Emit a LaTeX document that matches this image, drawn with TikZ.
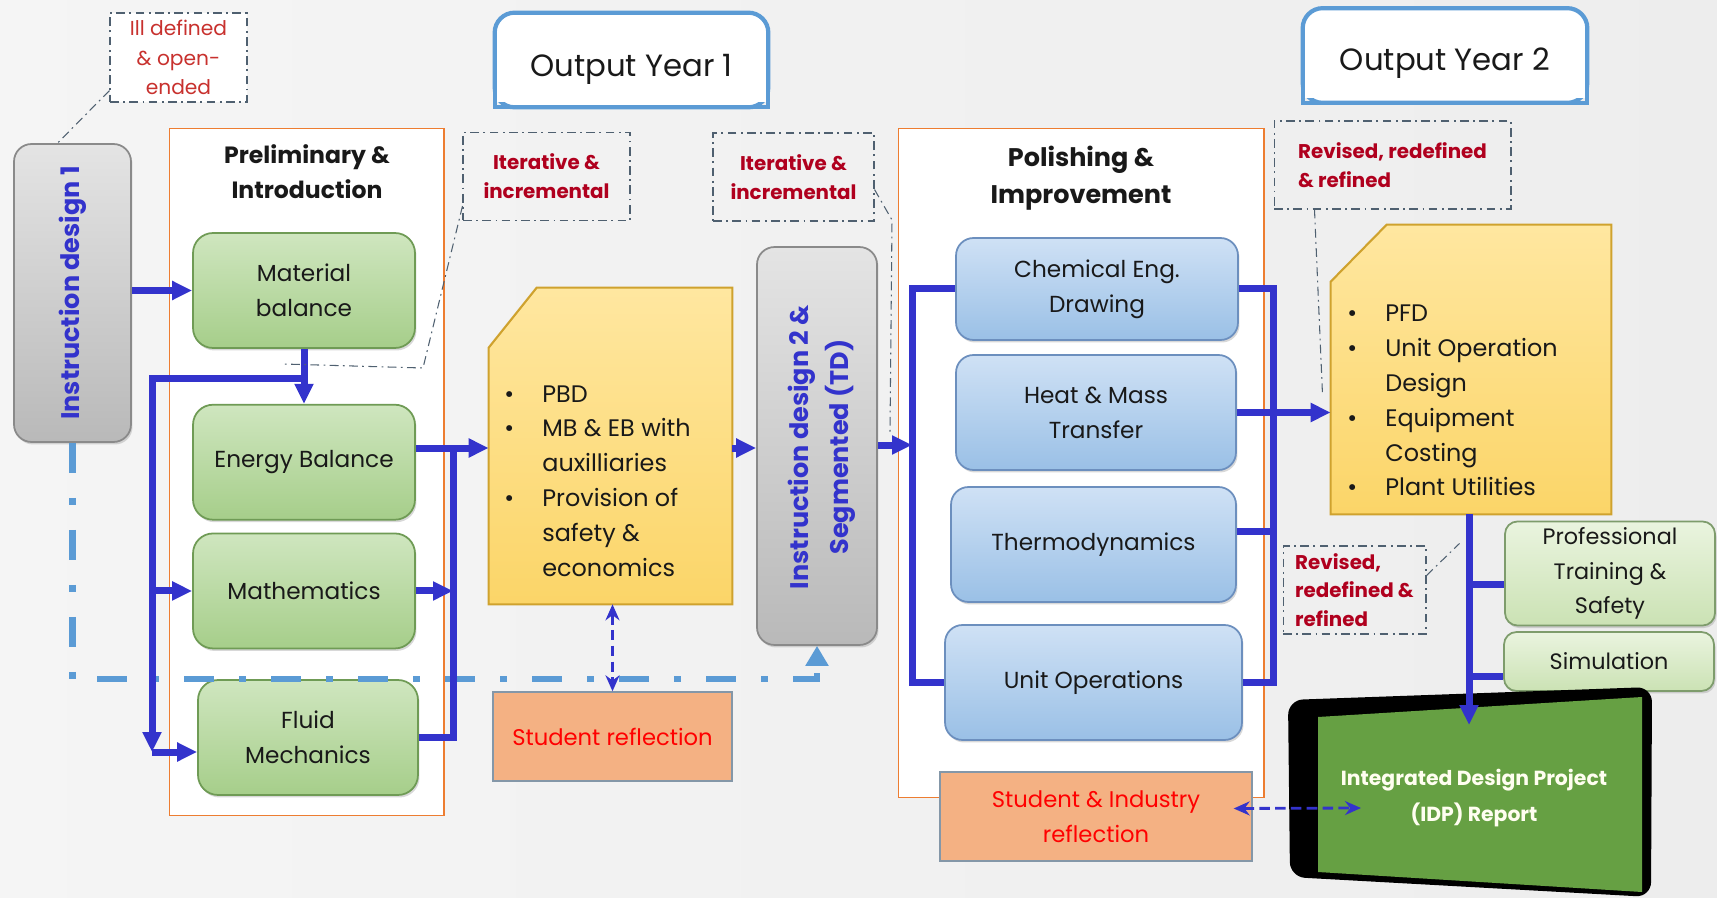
\documentclass[tikz,border=0pt]{standalone}
\usepackage{fontspec}
\setmainfont{Poppins}
\usetikzlibrary{arrows.meta,positioning,calc,shadows}
\definecolor{flowblue}{HTML}{3333CC}
\definecolor{trackblue}{HTML}{5B9BD5}
\definecolor{notegrey}{HTML}{4F6070}
\definecolor{notered}{HTML}{B0001E}
\definecolor{softred}{HTML}{C8312E}
\definecolor{stageorange}{HTML}{ED7D31}
\definecolor{idpgreen}{HTML}{66A043}
\definecolor{greentop}{HTML}{CFE6BF}
\definecolor{greenbot}{HTML}{A6CE8A}
\definecolor{greenedge}{HTML}{6F9B55}
\definecolor{bluetop}{HTML}{CFE1F5}
\definecolor{bluebot}{HTML}{9AC0E6}
\definecolor{blueedge}{HTML}{6C8FBE}
\definecolor{greytop}{HTML}{E4E4E4}
\definecolor{greybot}{HTML}{B9B9B9}
\definecolor{greyedge}{HTML}{8A8A8A}
\definecolor{goldtop}{HTML}{FFE7A0}
\definecolor{goldbot}{HTML}{FBD568}
\definecolor{goldedge}{HTML}{CFA22E}
\definecolor{mintop}{HTML}{EAF4DF}
\definecolor{minbot}{HTML}{CBE2B4}
\definecolor{minedge}{HTML}{7E9C6C}
\definecolor{salmon}{HTML}{F4B183}
\definecolor{salmonedge}{HTML}{8497A8}
\definecolor{yearedge}{HTML}{5B9BD5}
\newcommand\itembul{\makebox[0.76cm][l]{\textbullet}}
\newcommand\itemgap{\hspace*{0.76cm}}
\tikzset{
  every node/.style = {font=\fontsize{13.2}{19.8}\selectfont, text=black!90},
  stage/.style      = {draw=stageorange, line width=0.6pt, fill=white},
  stagetitle/.style = {font=\bfseries\fontsize{13.4}{19.8}\selectfont, align=center},
  boxshadow/.style  = {drop shadow={shadow xshift=0.03cm, shadow yshift=-0.05cm, opacity=0.3}},
  greenbox/.style   = {draw=greenedge, line width=1pt, rounded corners=0.4cm, top color=greentop,
                       bottom color=greenbot, minimum width=4.44cm, minimum height=2.3cm,
                       align=center, boxshadow},
  bluebox/.style    = {draw=blueedge, line width=1pt, rounded corners=0.35cm, top color=bluetop,
                       bottom color=bluebot, minimum height=2.3cm, align=center, boxshadow},
  greybox/.style    = {draw=greyedge, line width=1pt, rounded corners=0.35cm, top color=greytop,
                       bottom color=greybot, boxshadow},
  idtext/.style     = {rotate=90, text=flowblue, font=\bfseries\fontsize{14.5}{23}\selectfont},
  notebox/.style    = {draw=goldedge, line width=1.2pt, top color=goldtop, bottom color=goldbot},
  listtext/.style   = {anchor=west, inner sep=0pt, align=left, font=\fontsize{13.6}{19.85}\selectfont},
  reflbox/.style    = {draw=salmonedge, line width=0.8pt, fill=salmon, minimum height=1.78cm,
                       align=center, text=red, font=\fontsize{12.9}{19.8}\selectfont},
  sidebox/.style    = {draw=minedge, line width=1pt, rounded corners=0.25cm, top color=mintop,
                       bottom color=minbot, minimum width=4.2cm, align=center, boxshadow,
                       font=\fontsize{12.7}{19.8}\selectfont},
  yearbox/.style    = {minimum height=1.88cm, font=\fontsize{17.5}{21}\selectfont},
  yearframe/.style  = {draw=yearedge, line width=2.4pt},
  callout/.style    = {draw=notegrey, line width=0.6pt, dash pattern=on 5pt off 2.5pt on 1pt off 2.5pt,
                       minimum height=1.76cm, align=center, text=notered,
                       font=\bfseries\fontsize{11.3}{16.4}\selectfont},
  note/.style       = {draw=notegrey, line width=0.6pt, dash pattern=on 5pt off 2.5pt on 1pt off 2.5pt},
  bus/.style        = {draw=flowblue, line width=0.14cm},
  flow/.style       = {bus, -{Triangle[length=0.4cm,width=0.36cm]}},
  twoway/.style     = {draw=flowblue, line width=1.6pt, dash pattern=on 6pt off 3pt,
                       {Stealth[length=0.32cm,width=0.28cm]}-{Stealth[length=0.32cm,width=0.28cm]}},
  track/.style      = {draw=trackblue, line width=0.13cm,
                       dash pattern=on 0.6cm off 0.5cm on 0.14cm off 0.5cm,
                       -{Triangle[length=0.4cm,width=0.44cm]}},
}
\begin{document}
\begin{tikzpicture}[x=0.02cm, y=-0.02cm]
  \useasboundingbox (0,0) rectangle (1717,898);
  \shade[left color=black!4, right color=black!7] (0,0) rectangle (1717,898);

  % the two stages
  \node[stage, minimum width=5.5cm, minimum height=13.76cm] (prelim) at (306.5,472) {};
  \node[stagetitle] (prelimtitle) at (307,172) {Preliminary \&\\Introduction};
  \node[stage, minimum width=7.32cm, minimum height=13.4cm] (polish) at (1081,463) {};
  \node[stagetitle, font=\bfseries\fontsize{14.5}{21}\selectfont] (polishtitle) at (1081,178)
    {Polishing \&\\Improvement};

  % yearly outputs, rounded on top only
  \node[yearbox, minimum width=5.46cm] (year1) at (631.5,60) {};
  \node[yearbox, minimum width=5.68cm] (year2) at (1445,55.5) {};
  \foreach \yr in {year1,year2} {
    \filldraw[yearframe, fill=white, rounded corners=0.4cm]
      (\yr.south west) rectangle (\yr.north east);
    \fill[white] ([yshift=0.1cm]\yr.south west) rectangle ([yshift=0.5cm]\yr.south east);
    \draw[yearframe] ([yshift=0.5cm]\yr.south west) -- (\yr.south west)
      -- (\yr.south east) -- ([yshift=0.5cm]\yr.south east);
  }
  \node[yearbox, minimum height=0pt] (year1text) at ($(year1)+(0,9)$) {Output Year 1};
  \node[yearbox, minimum height=0pt] (year2text) at ($(year2)+(0,8)$) {Output Year 2};

  % instruction design blocks
  \node[greybox, minimum width=2.34cm, minimum height=5.96cm] (id1) at (72.5,293) {};
  \node[idtext] (id1label) at (id1) {Instruction design 1};
  \node[greybox, minimum width=2.4cm, minimum height=7.96cm] (id2) at (817,446) {};
  \node[idtext, align=center] (id2label) at (822,447) {Instruction design 2 \&\\Segmented (TD)};

  % year 1 courses
  \node[greenbox] (mb) at (304,290.5) {Material\\balance};
  \node[greenbox, below=1.1cm of mb] (eb) {Energy Balance};
  \node[greenbox, below=0.24cm of eb] (math) {Mathematics};
  \node[greenbox, minimum width=4.4cm] (fluid) at (308,737.5) {Fluid\\Mechanics};

  % year 2 courses
  \node[bluebox, minimum width=5.64cm, minimum height=2.04cm] (ced) at (1097,289)
    {Chemical Eng.\\Drawing};
  \node[bluebox, minimum width=5.6cm] (hmt) at (1096,412.5) {Heat \& Mass\\Transfer};
  \node[bluebox, minimum width=5.7cm] (thermo) at (1093.5,544.5) {Thermodynamics};
  \node[bluebox, minimum width=5.94cm] (unitop) at (1093.5,682.5) {Unit Operations};

  % outputs, each a sheet with a clipped corner
  \node[minimum width=4.86cm, minimum height=6.32cm] (pbd) at (610.5,446) {};
  \shadedraw[notebox] ($(pbd.north west)+(0,60)$) -- ($(pbd.north west)+(48,0)$)
    -- (pbd.north east) -- (pbd.south east) -- (pbd.south west) -- cycle;
  \node[listtext] (pbdlist) at (504,481)
    {\itembul PBD\\\itembul MB \& EB with\\\itemgap auxilliaries\\\itembul Provision of\\
     \itemgap safety \&\\\itemgap economics};
  \node[minimum width=5.6cm, minimum height=5.78cm] (pfd) at (1471,369.5) {};
  \shadedraw[notebox] ($(pfd.north west)+(0,57)$) -- ($(pfd.north west)+(56,0)$)
    -- (pfd.north east) -- (pfd.south east) -- (pfd.south west) -- cycle;
  \node[listtext] (pfdlist) at (1347,400.5)
    {\itembul PFD\\\itembul Unit Operation\\\itemgap Design\\\itembul Equipment\\
     \itemgap Costing\\\itembul Plant Utilities};

  \node[reflbox, minimum width=4.78cm] (sr) at (612.5,736.5) {Student reflection};
  \node[reflbox, minimum width=6.24cm] (sir) at (1096,816.5) {Student \& Industry\\reflection};

  \node[sidebox, minimum height=2.06cm] (pts) at (1610,573.5) {Professional\\Training \&\\Safety};
  \node[sidebox, minimum height=1.18cm] (sim) at (1609,661.5) {Simulation};

  % final report panel
  \fill[black, rounded corners=0.3cm] (1288,700) -- (1652,687) -- (1651,897) -- (1290,877) -- cycle;
  \fill[idpgreen] (1318,717) -- (1642,697) -- (1642,892) -- (1318,872) -- cycle;
  \node[text=white!94!yellow, align=center, font=\bfseries\fontsize{11.6}{21}\selectfont] (idp)
    at (1474,798) {Integrated Design Project\\(IDP) Report};

  % feedback track from design 1 to design 2
  \draw[track] (id1.south) |- ($(id2.south)+(0,33)$) -- (id2.south);

  % year 1 wiring
  \draw[flow] (id1.east |- mb) -- (mb.west);
  \draw[flow] (mb.south) -- (eb.north);
  \coordinate (mbtap) at ($(mb.south)+(0,30)$);
  \coordinate (leftbus) at (152,752);
  \coordinate (rightbus) at (453,448);
  \draw[flow] (mbtap) -| (leftbus);
  \draw[flow] (leftbus) -- (leftbus -| fluid.west);
  \draw[flow] (leftbus |- math) -- (math.west);
  \draw[bus] (fluid.east) -| (rightbus);
  \draw[flow] (math.east) -- (math.east -| rightbus);
  \draw[flow] (eb.east |- rightbus) -- (rightbus -| pbd.west);
  \draw[flow] (pbd.east |- rightbus) -- (id2.west |- rightbus);

  % year 2 wiring
  \coordinate (polbus) at (912,445);
  \coordinate (outbus) at (1273,409);
  \draw[flow] (id2.east |- polbus) -- (polbus);
  \draw[bus] (ced.west) -- (ced.west -| polbus) -- (unitop.west -| polbus) -- (unitop.west);
  \draw[bus] (ced.east) -- (ced.east -| outbus) -- (unitop.east -| outbus) -- (unitop.east);
  \draw[bus] ($(thermo.east)+(0,-13)$) coordinate (thout) -- (thout -| outbus);
  \draw[flow] (hmt.east) -- (hmt.east -| pfd.west);
  \coordinate (idptop) at (1469,725);
  \draw[flow] (pfd.south -| idptop) -- (idptop);
  \draw[bus] ($(pts.west)+(0,11)$) coordinate (ptsin) -- (ptsin -| idptop);
  \draw[bus] ($(sim.west)+(0,15)$) coordinate (simin) -- (simin -| idptop);

  % reflection links
  \draw[twoway] (sr.north |- pbd.south) -- (sr.north);
  \coordinate (idpin) at (1361,808);
  \draw[twoway] ($(sir.east)+(-19,-8)$) -- (idpin);

  % remarks
  \node[callout, fill=white, minimum width=2.74cm, minimum height=1.78cm, text=softred,
        font=\fontsize{11.5}{17}\selectfont] (illdef) at (178.5,57.5) {Ill defined\\\& open-\\ended};
  \node[callout, minimum width=3.34cm] (iter1) at (546.5,176.5) {Iterative \&\\incremental};
  \node[callout, minimum width=3.22cm] (iter2) at (793.5,177) {Iterative \&\\incremental};
  \node[callout, minimum width=4.74cm, align=left] (rev1) at (1392.5,165) {Revised, redefined\\\& refined};
  \node[callout, minimum width=2.86cm, align=left] (rev2) at (1354.5,590) {Revised,\\redefined \&\\refined};
  \coordinate (iter1bend) at (423,368);
  \coordinate (iter1end) at (283,364);
  \coordinate (iter2bend) at (892,220);
  \coordinate (iter2end) at (890,432);
  \draw[note] ([yshift=0.24cm]illdef.south west) -- ($(id1.north)+(-15,0)$);
  \draw[note] ([yshift=0.3cm]iter1.south west) -- (iter1bend) -- (iter1end);
  \draw[note] ([yshift=0.64cm]iter2.south east) -- (iter2bend) -- (iter2end);
  \draw[note] ($(rev1.south west)+(41,0)$) -- ($(rev1.south west)+(49,185)$);
  \draw[note] ([yshift=-0.6cm]rev2.north east) -- ($(rev2.north east)+(33,-2)$);
\end{tikzpicture}
\end{document}
